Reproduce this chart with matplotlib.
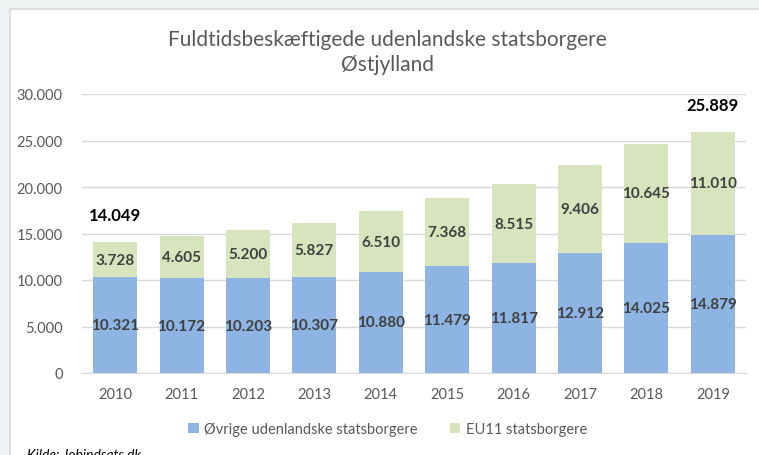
import matplotlib.pyplot as plt
from matplotlib.patches import Rectangle
from matplotlib.ticker import FuncFormatter

plt.rcParams['font.family'] = ['Lato', 'DejaVu Sans']

years = ['2010', '2011', '2012', '2013', '2014', '2015', '2016', '2017', '2018', '2019']
ovrige = [10321, 10172, 10203, 10307, 10880, 11479, 11817, 12912, 14025, 14879]
eu11 = [3728, 4605, 5200, 5827, 6510, 7368, 8515, 9406, 10645, 11010]
totals_shown = {0: 14049, 9: 25889}

blue = '#8EB4E3'
green = '#D7E4BD'
grey_txt = '#595959'


def dk(v):
    return f'{int(v):,}'.replace(',', '.')


fig = plt.figure(figsize=(7.59, 4.56), dpi=100, facecolor='#EEF2F3')
# white chart area with thin border
fig.patches.append(Rectangle((10 / 759, -0.01), 1.0, 446 / 456 + 0.01,
                             transform=fig.transFigure, facecolor='white',
                             edgecolor='#D9D9D9', linewidth=1.2, zorder=-5))

ax = fig.add_axes([82 / 759, 82 / 456, 664 / 759, 279 / 456])
ax.set_zorder(1)
ax.set_facecolor('white')

x = range(len(years))
w = 0.66
ax.bar(x, ovrige, w, color=blue, label='Øvrige udenlandske statsborgere', zorder=2)
ax.bar(x, eu11, w, bottom=ovrige, color=green, label='EU11 statsborgere', zorder=2)

for i in x:
    ax.text(i, ovrige[i] / 2, dk(ovrige[i]), ha='center', va='center',
            fontsize=11, fontweight='bold', color='#404040', zorder=3)
    ax.text(i, ovrige[i] + eu11[i] / 2, dk(eu11[i]), ha='center', va='center',
            fontsize=11, fontweight='bold', color='#404040', zorder=3)

for i, t in totals_shown.items():
    ax.text(i, t + 2900, dk(t), ha='center', va='center',
            fontsize=12, fontweight='bold', color='black', zorder=3)

ax.set_xlim(-0.5, 9.5)
ax.set_ylim(0, 30000)
ax.set_yticks(range(0, 30001, 5000))
ax.yaxis.set_major_formatter(FuncFormatter(lambda v, p: dk(v)))
ax.set_xticks(list(x))
ax.set_xticklabels(years)
ax.grid(axis='y', color='#D9D9D9', linewidth=1, zorder=0)
ax.tick_params(axis='both', length=0, labelsize=10.5, colors=grey_txt)
ax.tick_params(axis='x', pad=10)
ax.tick_params(axis='y', pad=14)
for s in ['top', 'right', 'left']:
    ax.spines[s].set_visible(False)
ax.spines['bottom'].set_color('#D9D9D9')

fig.text(0.511, 0.885, 'Fuldtidsbeskæftigede udenlandske statsborgere\nØstjylland',
         ha='center', va='center', fontsize=15, color=grey_txt, linespacing=1.3)

fig.legend(loc='center', bbox_to_anchor=(0.511, 0.057), ncol=2, frameon=False,
           fontsize=10.5, handlelength=0.7, handleheight=0.7, columnspacing=2.2,
           handletextpad=0.4, labelcolor=grey_txt)

fig.text(27 / 759, -0.012, 'Kilde: Jobindsats.dk', fontsize=10, style='italic',
         color='black', ha='left', va='bottom')

fig.savefig('out.png', dpi=100, facecolor=fig.get_facecolor())
